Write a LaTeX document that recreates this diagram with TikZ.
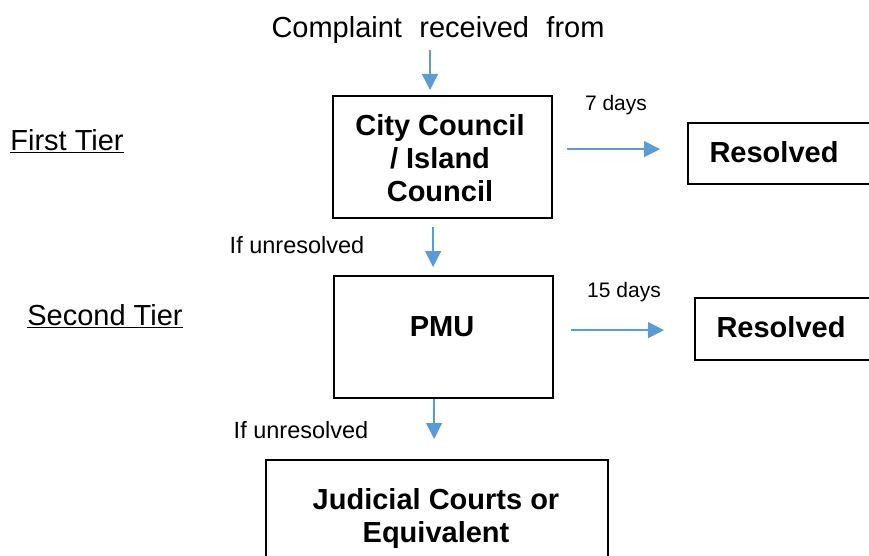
\documentclass[tikz,border=0pt]{standalone}
\usepackage{fontspec}
\setmainfont{Liberation Sans}
\usetikzlibrary{arrows.meta}
\definecolor{arrblue}{HTML}{5B9BD5}
\tikzset{
  box/.style={draw=black, line width=2.2pt, rectangle, inner sep=0pt, anchor=north west},
  big/.style={font=\fontsize{29}{33}\selectfont, inner sep=0pt, align=center},
  bigb/.style={font=\bfseries\fontsize{29}{33}\selectfont, inner sep=0pt, align=center},
  small/.style={font=\fontsize{21}{25}\selectfont, inner sep=0pt},
  mid/.style={font=\fontsize{23.5}{27}\selectfont, inner sep=0pt},
  arr/.style={draw=arrblue, line width=1.3pt, -{Triangle[length=16pt,width=16pt]}}
}
\begin{document}
\begin{tikzpicture}[x=1pt,y=-1pt]
\clip (0,0) rectangle (869,556);
\fill[white] (0,0) rectangle (869,556);
% titles
\node[big] (complaint) at (438,30) {Complaint\hspace{0.6em}received\hspace{0.6em}from};
\node[big] (tier1) at (67,141) {\underline{First Tier}};
\node[big] (tier2) at (105,316) {\underline{Second Tier}};
% boxes
\node[box, minimum width=219pt, minimum height=122pt] (city) at (332,95) {};
\node[bigb] (citytxt) at (440,158) {City Council\\/ Island\\Council};
\node[box, minimum width=219pt, minimum height=122pt] (pmu) at (333,275) {};
\node[bigb] (pmutxt) at (442,327) {PMU};
\node[box, minimum width=230pt, minimum height=61pt] (res1) at (687,122) {};
\node[bigb] (res1txt) at (774,152) {Resolved};
\node[box, minimum width=230pt, minimum height=62pt] (res2) at (694,297) {};
\node[bigb] (res2txt) at (781,327) {Resolved};
\node[box, minimum width=342pt, minimum height=140pt] (jud) at (265,459) {};
\node[bigb] (judtxt) at (436,518) {Judicial Courts or\\Equivalent};
% labels
\node[small] (d7) at (616,105) {7 days};
\node[small] (d15) at (624,292) {15 days};
\node[mid] (unres1) at (297,245) {If unresolved};
\node[mid] (unres2) at (301,430) {If unresolved};
% arrows
\draw[arr, shorten >=5pt] (complaint.south -| 430,0) ++(0,-6pt) coordinate (a0s) -- (a0s |- city.north);
\draw[arr, shorten <=8pt, shorten >=8pt] ([xshift=-9.5pt]city.south) -- ([xshift=-10.5pt]pmu.north);
\draw[arr, shorten >=20pt] ([xshift=-9.5pt]pmu.south) -- ([xshift=-3pt]jud.north);
\draw[arr, shorten >=27pt] ([xshift=14pt,yshift=8pt]city.east) coordinate (a1s) -- (a1s -| res1.west);
\draw[arr, shorten >=30pt] ([xshift=17pt,yshift=7pt]pmu.east) coordinate (a2s) -- (a2s -| res2.west);
\end{tikzpicture}
\end{document}
